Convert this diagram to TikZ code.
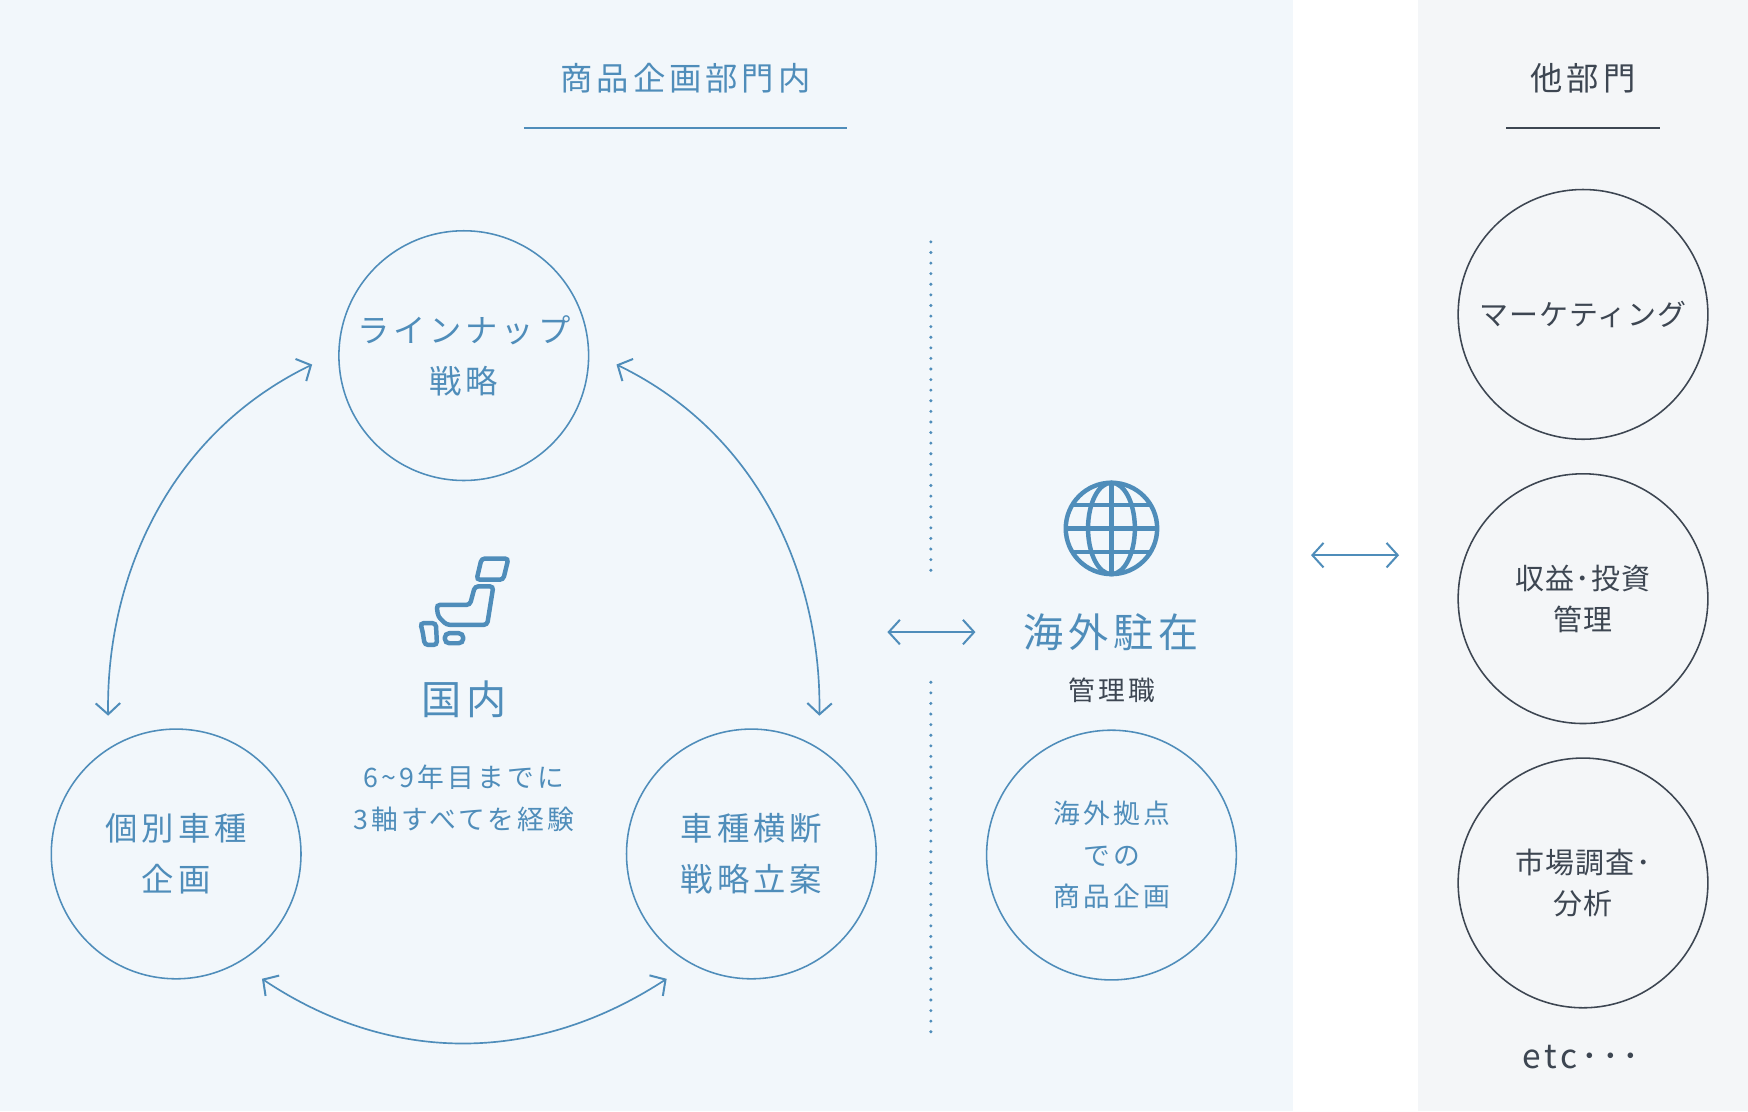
\documentclass[tikz,border=0pt]{standalone}
\usepackage{fontspec}
\setmainfont{Noto Sans CJK JP}[LetterSpace=12]
\newfontfamily\gfont{Noto Sans CJK JP}[LetterSpace=4]
\usetikzlibrary{arrows.meta}
\definecolor{bgA}{HTML}{F2F7FB}
\definecolor{bgB}{HTML}{F4F6F8}
\definecolor{blu}{HTML}{4F8DBA}
\definecolor{dk}{HTML}{3D4652}
\tikzset{
 bc/.style={circle,draw=blu,line width=1.4pt,minimum size=224pt,inner sep=0pt,align=center,text=blu,font=\fontsize{29}{46}\selectfont},
 gc/.style={circle,draw=dk,line width=1.4pt,minimum size=224pt,inner sep=0pt,align=center,text=dk,font=\gfont\fontsize{26}{37}\selectfont},
 arr/.style={draw=blu,line width=1.5pt,{Straight Barb[length=10pt,width=22pt,line width=1.8pt]}-{Straight Barb[length=10pt,width=22pt,line width=1.8pt]}},
 ic/.style={draw=blu,line width=4pt,rounded corners=3pt},
}
\begin{document}
\begin{tikzpicture}[x=1pt,y=-1pt]
\useasboundingbox (0,0) rectangle (1568,997);
\fill[bgA] (0,0) rectangle (1160,997);
\fill[bgB] (1272,0) rectangle (1568,997);
\node[text=blu,font=\fontsize{29}{34}\selectfont] (t1) at (615,70) {商品企画部門内};
\draw[blu,line width=1.4pt] (470,115) -- (760,115);
\node[text=dk,font=\fontsize{29}{34}\selectfont] (t2) at (1420,70) {他部門};
\draw[dk,line width=1.4pt] (1351,115) -- (1489,115);

\node[bc] (top) at (416,319) {ラインナップ\\戦略};
\node[bc] (lft) at (158,766) {個別車種\\企画};
\node[bc] (rgt) at (674,766) {車種横断\\戦略立案};
\node[bc,font=\fontsize{24}{37}\selectfont] (ovs) at (997,767) {海外拠点\\での\\商品企画};
\node[gc] (m1) at (1420,282) {マーケティング};
\node[gc] (m2) at (1420,537) {収益･投資\\管理};
\node[gc] (m3) at (1420,792) {市場調査･\\分析};
\node[text=dk,font=\fontsize{30}{34}\selectfont] (etc) at (1418,948) {etc･･･};

\coordinate (a1) at (280,327); \coordinate (a2) at (97,642);
\coordinate (b1) at (553,327); \coordinate (b2) at (735,642);
\coordinate (c1) at (235,878); \coordinate (c2) at (598,878);
\draw[arr] (a1) .. controls (150,390) and (95,520) .. (a2);
\draw[arr] (b1) .. controls (683,390) and (737,520) .. (b2);
\draw[arr] (c1) .. controls (350,955) and (480,955) .. (c2);

\node[text=blu,font=\fontsize{36}{40}\selectfont] (kn) at (416,627) {国内};
\node[text=blu,align=center,font=\fontsize{24}{37}\selectfont] (kd) at (416,716) {6\textasciitilde9年目までに\\3軸すべてを経験};

% Japan icon
\draw[ic] (432,501) -- (456,501) -- (451.4,520) -- (427.5,520) -- cycle;
\draw[ic] (426,526) -- (442.5,526) -- (437,560.5) -- (400.6,560.5) -- (393,553) -- (391.6,542.6) -- (421.5,542.6) -- cycle;
\draw[ic] (377,559) -- (391,559) -- (392,578.5) -- (381,578.5) -- (379,566) -- cycle;
\draw[blu,line width=4pt,rounded corners=4pt] (399,568) rectangle (415.5,577);

% dotted line
\draw[blu,line width=3pt,line cap=round,dash pattern=on 0pt off 9.5pt] (835,217) -- (835,520);
\draw[blu,line width=3pt,line cap=round,dash pattern=on 0pt off 9.5pt] (835,612) -- (835,935);
\coordinate (d1) at (796,567); \coordinate (d2) at (875,567);
\draw[arr] (d1) -- (d2);
\coordinate (e1) at (1176,498); \coordinate (e2) at (1255,498);
\draw[arr] (e1) -- (e2);

% globe
\begin{scope}[blu,line width=4pt]
\draw (997,474) circle (41);
\draw (997,474) ellipse (21 and 41);
\draw (997,433) -- (997,515);
\draw (956,474) -- (1038,474);
\draw (962,453) -- (1032,453);
\draw (962,495) -- (1032,495);
\end{scope}
\node[text=blu,font=\fontsize{36}{40}\selectfont] (kg) at (997,567) {海外駐在};
\node[text=dk,font=\fontsize{24}{30}\selectfont] (kr) at (997,619) {管理職};
\end{tikzpicture}
\end{document}
